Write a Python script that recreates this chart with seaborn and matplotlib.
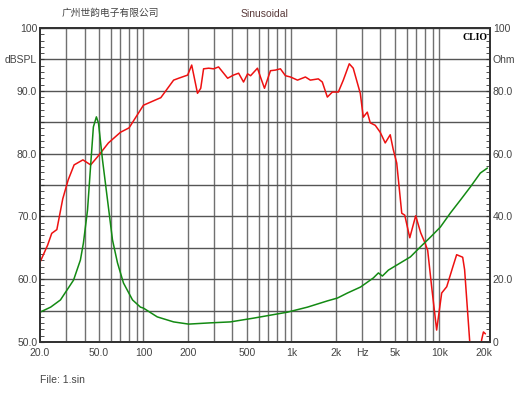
import matplotlib
matplotlib.use('Agg')
import matplotlib.pyplot as plt
import pandas as pd
import seaborn as sns

# SPL response (Hz, dBSPL)
spl_freq = [20, 22.5, 24, 26, 28.5, 31, 34, 39, 44, 49, 58, 70, 80, 100, 125, 131,
            160, 173, 199, 212, 232, 244, 255, 276, 298, 322, 371, 406, 440, 475,
            506, 530, 590, 618, 658, 722, 780, 843, 912, 986, 1100, 1244, 1343,
            1521, 1618, 1750, 1892, 2076, 2244, 2462, 2618, 2922, 3062, 3258, 3412,
            3690, 3984, 4308, 4656, 4876, 5152, 5572, 5838, 6312, 6920, 7480, 7960,
            8340, 8872, 9590, 10372, 11218, 12312, 13092, 14380, 14820, 16020,
            17500, 19000, 19300, 19860, 20480]
spl_db = [62.7, 65.4, 67.3, 67.9, 72.8, 75.8, 78.2, 79.0, 78.2, 79.5, 81.7, 83.4,
          84.1, 87.7, 88.7, 88.9, 91.7, 92.0, 92.5, 94.1, 89.6, 90.4, 93.5, 93.6,
          93.5, 93.8, 92.0, 92.5, 92.8, 91.4, 92.7, 92.4, 93.6, 92.2, 90.4, 93.2,
          93.3, 93.5, 92.4, 92.2, 91.7, 92.2, 91.7, 91.9, 91.4, 89.0, 89.8, 89.8,
          91.7, 94.3, 93.6, 89.6, 85.8, 86.6, 84.9, 84.5, 83.4, 81.7, 83.0, 80.7,
          78.5, 70.5, 70.2, 66.6, 70.1, 67.4, 65.9, 64.6, 58.8, 51.9, 57.8, 58.8,
          61.9, 63.9, 63.5, 61.5, 50.3, 40.0, 48.0, 50.3, 51.6, 51.3]

# impedance (Hz, Ohm)
imp_freq = [20, 23.6, 27.5, 33.7, 37.5, 39.3, 41.9, 43.9, 45.9, 48.1, 49.7, 52.9,
            57.2, 61.8, 66.8, 73.3, 84.4, 95.5, 100, 124, 160, 202, 284, 387, 555,
            940, 1284, 1754, 2048, 2393, 2932, 3581, 3874, 4122, 4528, 5458, 6374,
            7448, 8710, 10160, 11884, 13880, 16220, 18920, 21130]
imp_ohm = [9.5, 11.1, 13.4, 19.7, 26.1, 31.5, 42.0, 55.7, 68.5, 71.7, 69.7, 58.0,
           45.2, 32.5, 25.2, 18.8, 13.4, 11.1, 10.8, 8.0, 6.4, 5.7, 6.1, 6.4, 7.6,
           9.5, 11.1, 13.1, 14.0, 15.6, 17.5, 20.4, 22.0, 21.0, 22.9, 25.2, 27.1,
           30.3, 33.4, 36.6, 41.1, 45.2, 49.4, 53.8, 55.4]

x_ticks = [20, 50, 100, 200, 500, 1000, 2000, 3000, 5000, 10000, 20000]
x_labels = ['20.0', '50.0', '100', '200', '500', '1k', '2k', 'Hz', '5k', '10k', '20k']
grid_freqs = [30, 40, 50, 60, 70, 80, 90, 100, 200, 300, 400, 500, 600, 700, 800,
              900, 1000, 2000, 3000, 4000, 5000, 6000, 7000, 8000, 9000, 10000]
left_ticks = [50, 55, 60, 65, 70, 75, 80, 85, 90, 95, 100]
left_labels = ['50.0', '', '60.0', '', '70.0', '', '80.0', '', '90.0', 'dBSPL', '100']
right_ticks = [0, 20, 40, 60, 80, 90, 100]
right_labels = ['0', '20.0', '40.0', '60.0', '80.0', 'Ohm', '100']

spl = pd.DataFrame({'freq': spl_freq, 'db': spl_db})
imp = pd.DataFrame({'freq': imp_freq, 'ohm': imp_ohm})

sns.set_style('white')
plt.rcParams['font.family'] = ['Liberation Sans', 'Noto Sans CJK SC', 'DejaVu Sans']
txt = '#444444'

fig = plt.figure(figsize=(5.3, 3.98), dpi=100)
ax = fig.add_axes([40 / 530, 1 - 342 / 398, 450 / 530, 314 / 398])
ax2 = ax.twinx()

sns.lineplot(data=spl, x='freq', y='db', ax=ax, color='#ee1111', lw=1.1,
             estimator=None, sort=False)
sns.lineplot(data=imp, x='freq', y='ohm', ax=ax2, color='#138a13', lw=1.1,
             estimator=None, sort=False)

ax.set_xscale('log')
ax.set_xlim(20, 22000)
ax.set_ylim(50, 100)
ax2.set_ylim(0, 100)

ax.set_xticks(x_ticks)
ax.set_xticklabels(x_labels)
ax.xaxis.set_minor_locator(matplotlib.ticker.NullLocator())
ax.set_yticks(left_ticks)
ax.set_yticklabels(left_labels)
ax.set_yticks(range(50, 101), minor=True)
ax2.set_yticks(right_ticks)
ax2.set_yticklabels(right_labels)
ax2.set_yticks(range(0, 101, 2), minor=True)

# grid: vertical lines at decade steps, horizontal every 5 dB
ax.grid(False)
ax2.grid(False)
for f in grid_freqs:
    ax.axvline(f, color='#707070', lw=1, zorder=0)
ax.grid(axis='y', which='major', color='#555555', lw=1)
ax.set_axisbelow(True)

ax.tick_params(axis='x', which='both', length=0, labelsize=7.5, labelcolor=txt, pad=4)
ax.tick_params(axis='y', which='major', direction='in', length=3, labelsize=7.5,
               labelcolor=txt, pad=2, color='#333333')
ax.tick_params(axis='y', which='minor', direction='in', length=3, color='#333333')
ax2.tick_params(axis='y', which='major', direction='in', length=3, labelsize=7.5,
                labelcolor=txt, pad=2, color='#333333')
ax2.tick_params(axis='y', which='minor', direction='in', length=3, color='#333333')

ax.set_xlabel('')
ax.set_ylabel('')
ax2.set_ylabel('')
for a in (ax, ax2):
    for s in a.spines.values():
        s.set_color('#333333')
        s.set_linewidth(1.3)

ax.text(0.995, 0.985, 'CLIO', transform=ax.transAxes, ha='right', va='top',
        fontsize=7, fontweight='bold', family='Liberation Serif', color='black')
fig.text(62 / 530, 1 - 13 / 398, '广州世韵电子有限公司', ha='left', va='center',
         fontsize=7, color=txt, family=['Noto Sans CJK SC', 'DejaVu Sans'])
fig.text(265 / 530, 1 - 14 / 398, 'Sinusoidal', ha='center', va='center',
         fontsize=7.5, color='#5a3a3a')
fig.text(40 / 530, 1 - 380 / 398, 'File: 1.sin', ha='left', va='center',
         fontsize=7.5, color=txt)

fig.savefig('out.png', dpi=100)
